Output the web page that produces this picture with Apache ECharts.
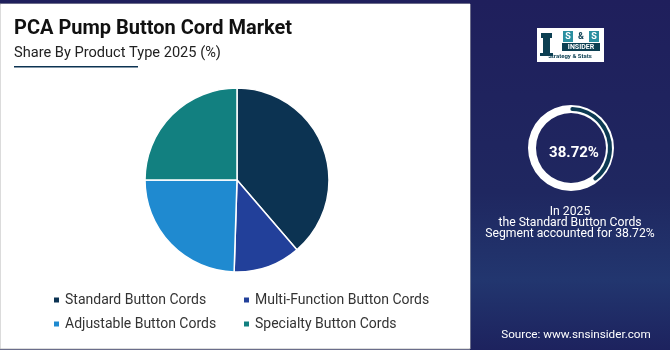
<!DOCTYPE html>
<html><head><meta charset="utf-8">
<script src="https://cdn.jsdelivr.net/npm/echarts@6/dist/echarts.min.js"></script>
<style>html,body{margin:0;padding:0;background:#1f1f5c}#c{width:670px;height:350px}</style>
</head><body><div id="c"></div>
<script>
const title = 'PCA Pump Button Cord Market';
const subtitle = 'Share By Product Type 2025 (%)';
const categories = ['Standard Button Cords', 'Multi-Function Button Cords', 'Adjustable Button Cords', 'Specialty Button Cords'];
const shares = [38.72, 11.78, 24.5, 25.0];
const colors = ['#0c3352', '#22409a', '#1f8ad0', '#128080'];
const highlightValue = 38.72;
const highlightText = ['In 2025', 'the Standard Button Cords', 'Segment accounted for 38.72%'];
const sourceText = 'Source: www.snsinsider.com';

const chart = echarts.init(document.getElementById('c'), null, {renderer: 'canvas'});
const F = 'Roboto, "Noto Sans", sans-serif';
chart.setOption({
  animation: false,
  backgroundColor: {
    type: 'linear', x: 0, y: 0, x2: 0, y2: 1,
    colorStops: [{offset: 0, color: '#1f1f5c'}, {offset: 0.55, color: '#1f2760'}, {offset: 0.8, color: '#22366f'}, {offset: 1, color: '#1d225e'}]
  },
  color: colors,
  graphic: [
    {type: 'rect', shape: {x: 0, y: 4, width: 470, height: 345}, style: {fill: '#ffffff', stroke: '#b8b8b8', lineWidth: 1}, z: 0},
    {type: 'rect', shape: {x: 1, y: 4, width: 469, height: 344}, style: {fill: '#ffffff'}, z: 1},
    {type: 'text', left: 14, top: 19, style: {text: title, font: 'bold 20px ' + F, fill: '#111111'}, z: 5},
    {type: 'text', left: 14, top: 46, style: {text: subtitle, font: '14.6px ' + F, fill: '#222222'}, z: 5},
    {type: 'rect', shape: {x: 14, y: 66, width: 124, height: 1.5}, style: {fill: '#0c3352'}, z: 5},
    // logo
    {type: 'rect', shape: {x: 537, y: 28, width: 67, height: 34}, style: {fill: '#ffffff'}, z: 5},
    {type: 'rect', shape: {x: 543, y: 38, width: 7, height: 15}, style: {fill: '#0c3f52'}, z: 6},
    {type: 'rect', shape: {x: 541, y: 33, width: 11, height: 5}, style: {fill: '#0c3f52'}, z: 6},
    {type: 'rect', shape: {x: 540, y: 53, width: 13, height: 3}, style: {fill: '#0c3f52'}, z: 6},
    {type: 'rect', shape: {x: 563, y: 31, width: 10, height: 11}, style: {fill: '#2b8fa0'}, z: 6},
    {type: 'rect', shape: {x: 589, y: 31, width: 10, height: 11}, style: {fill: '#2b8fa0'}, z: 6},
    {type: 'text', x: 568, y: 36.5, style: {text: 'S', font: 'bold 9px ' + F, fill: '#ffffff', align: 'center', verticalAlign: 'middle'}, z: 7},
    {type: 'text', x: 581, y: 36.5, style: {text: '&', font: 'bold 9px ' + F, fill: '#0c3f52', align: 'center', verticalAlign: 'middle'}, z: 7},
    {type: 'text', x: 594, y: 36.5, style: {text: 'S', font: 'bold 9px ' + F, fill: '#ffffff', align: 'center', verticalAlign: 'middle'}, z: 7},
    {type: 'rect', shape: {x: 562, y: 43, width: 38, height: 8}, style: {fill: '#0c3f52'}, z: 6},
    {type: 'text', x: 581, y: 47, style: {text: 'INSIDER', font: 'bold 7px ' + F, fill: '#ffffff', align: 'center', verticalAlign: 'middle'}, z: 7},
    {type: 'text', x: 570, y: 56.5, style: {text: 'Strategy & Stats', font: 'bold 6px ' + F, fill: '#0c3f52', align: 'center', verticalAlign: 'middle'}, z: 7},
    // highlight text
    {type: 'text', x: 574, y: 153, style: {text: highlightValue.toFixed(2) + '%', font: 'bold 15px ' + F, fill: '#ffffff', align: 'center', verticalAlign: 'middle'}, z: 7},
    {type: 'text', x: 570, y: 223, style: {text: highlightText.join('\n'), font: '12.2px ' + F, lineHeight: 11, fill: '#ffffff', align: 'center', verticalAlign: 'middle'}, z: 7},
    {type: 'text', x: 576, y: 335, style: {text: sourceText, font: '11.7px ' + F, fill: '#ffffff', align: 'center', verticalAlign: 'middle'}, z: 7}
  ],
  legend: [
    {orient: 'vertical', left: 47, top: 288, itemWidth: 7, itemHeight: 7, itemGap: 10, icon: 'rect',
     data: [categories[0], categories[2]], textStyle: {fontFamily: F, fontSize: 14, color: '#333333'}},
    {orient: 'vertical', left: 237, top: 288, itemWidth: 7, itemHeight: 7, itemGap: 10, icon: 'rect',
     data: [categories[1], categories[3]], textStyle: {fontFamily: F, fontSize: 14, color: '#333333'}}
  ],
  series: [
    {type: 'pie', center: [237, 180], radius: [0, 92], startAngle: 90, clockwise: true, silent: true,
     label: {show: false}, labelLine: {show: false},
     itemStyle: {borderColor: '#ffffff', borderWidth: 1.5},
     data: categories.map((c, i) => ({name: c, value: shares[i]}))},
    {type: 'gauge', center: [571, 148], radius: 43, startAngle: 90, endAngle: -270, min: 0, max: 100, silent: true,
     axisLine: {lineStyle: {width: 8, color: [[1, '#ffffff']]}},
     progress: {show: false}, pointer: {show: false}, axisTick: {show: false}, splitLine: {show: false}, axisLabel: {show: false},
     detail: {show: false}, title: {show: false}, data: [{value: highlightValue}]},
    {type: 'gauge', center: [571, 148], radius: 41, startAngle: 88, endAngle: -272, min: 0, max: 100, silent: true,
     axisLine: {show: false, lineStyle: {width: 4}},
     progress: {show: true, width: 4, roundCap: true, itemStyle: {color: '#0c3a52'}},
     pointer: {show: false}, axisTick: {show: false}, splitLine: {show: false}, axisLabel: {show: false},
     detail: {show: false}, title: {show: false}, data: [{value: highlightValue}]}
  ]
});
</script></body></html>
